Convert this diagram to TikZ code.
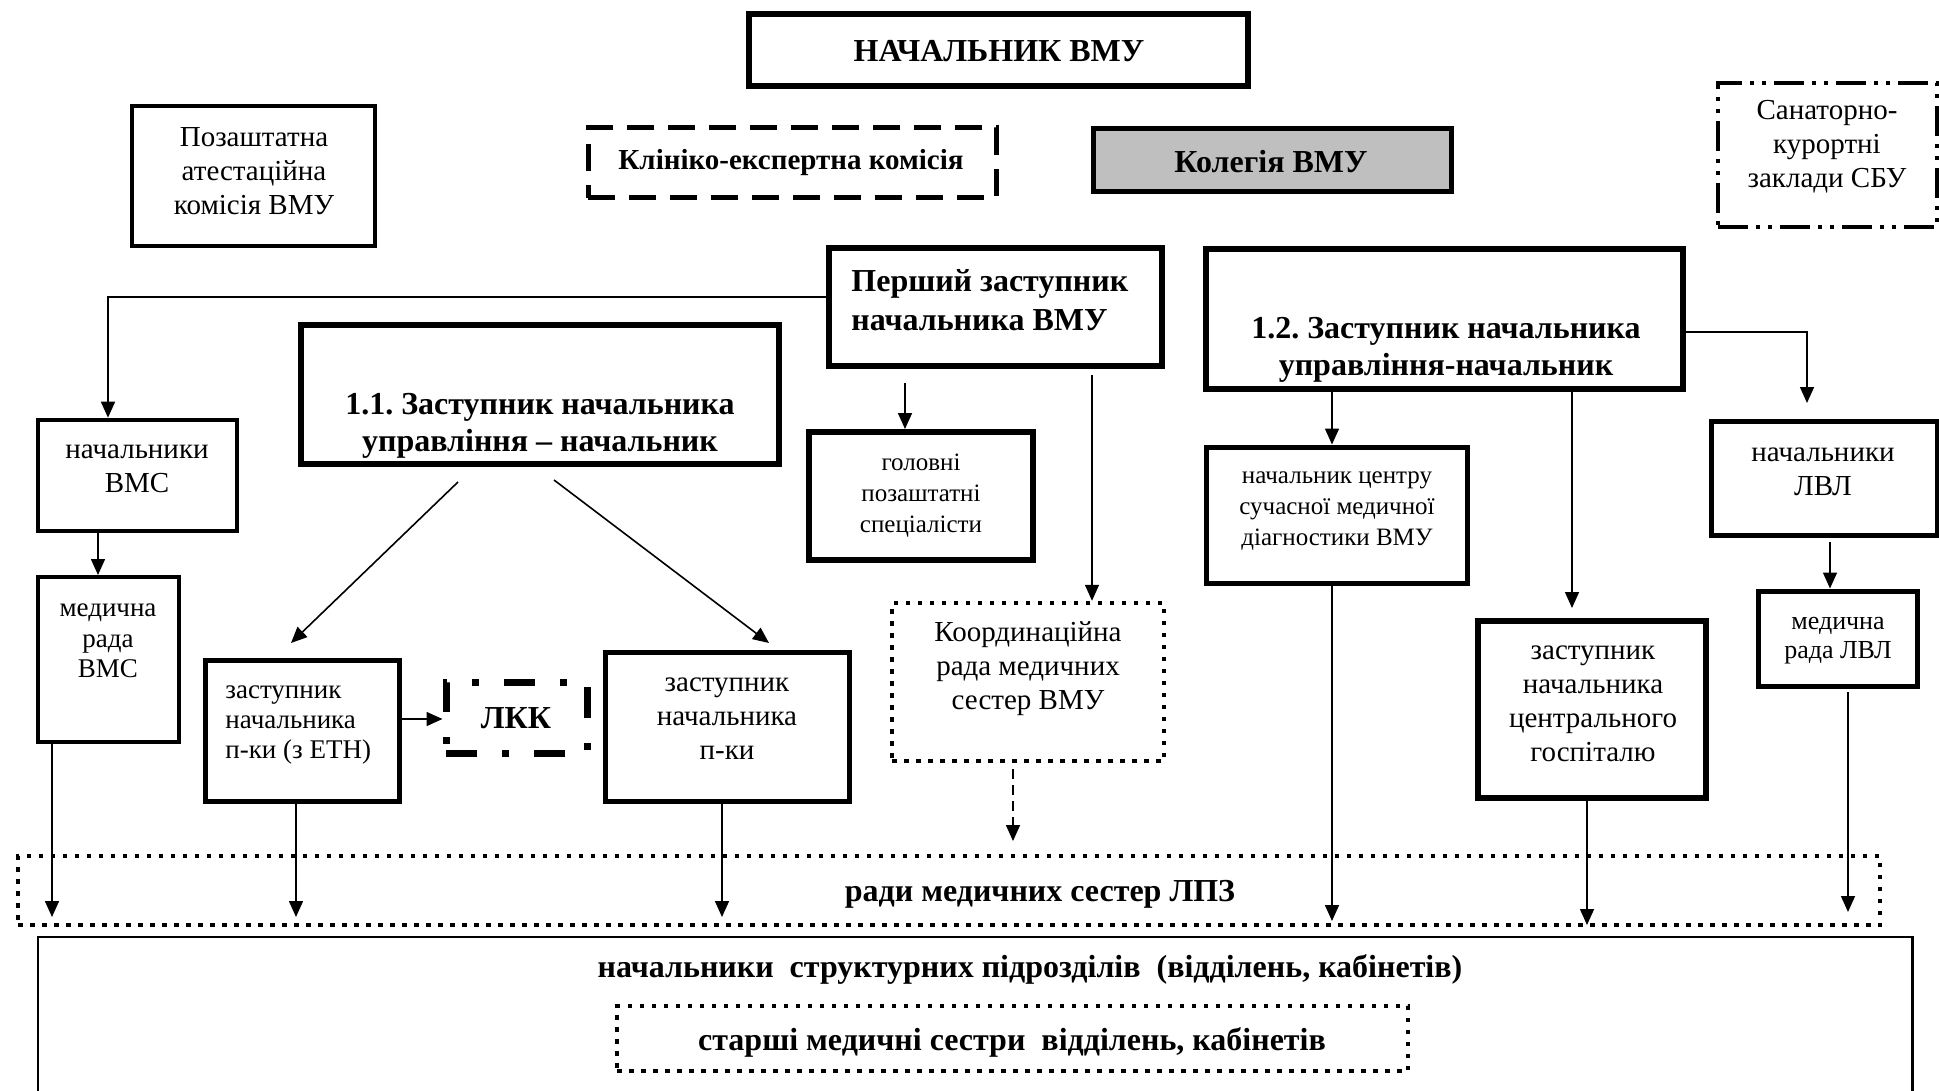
\documentclass[tikz,border=0pt]{standalone}
\usepackage{fontspec}
\setmainfont{Liberation Serif}
\frenchspacing
\usetikzlibrary{arrows.meta,fit,calc}
\definecolor{kolgray}{gray}{0.75}
\begin{document}
\begin{tikzpicture}[x=0.5pt,y=-0.5pt,
  box/.style={draw, inner sep=0pt, line width=#1},
  box/.default=2.5pt,
  dotbox/.style={draw, inner sep=0pt, line width=2.25pt, dash pattern=on 2.25pt off 3.75pt},
  dashbox/.style={draw, inner sep=0pt, line width=2.5pt, dash pattern=on 13.5pt off 7pt},
  ddotbox/.style={draw, inner sep=0pt, line width=2pt, dash pattern=on 15pt off 4pt on 2pt off 4pt on 2pt off 4pt},
  dshdotbox/.style={draw, inner sep=0pt, line width=3.5pt, dash pattern=on 15.5pt off 12.5pt on 3.5pt off 12.5pt},
  lbl/.style={align=center, inner sep=0pt, font=\fontsize{14.5}{17}\selectfont},
  slbl/.style={align=center, inner sep=0pt, font=\fontsize{12.5}{15.5}\selectfont},
  blbl/.style={align=center, inner sep=0pt, font=\fontsize{16}{18.5}\selectfont\bfseries},
  arr/.style={line width=0.8pt, -{Triangle[length=8pt,width=7pt]}},
  darr/.style={line width=0.8pt, dash pattern=on 5pt off 3pt, -{Triangle[length=8pt,width=7pt]}}
]
\useasboundingbox (0,0) rectangle (1939,1091);

% ---------- boxes ----------
\node[box=3.2pt, fit={(749,14)(1248,86)}] (nach) {};
\node[box=1.8pt, fit={(132,106)(375,246)}] (poza) {};
\node[dashbox, fit={(588,128)(996,198)}] (kek) {};
\node[box=2.5pt, fill=kolgray, fit={(1093,129)(1451,192)}] (kol) {};
\node[ddotbox, fit={(1718,83)(1937,227)}] (san) {};
\node[box=3pt, fit={(829,248)(1162,366)}] (persh) {};
\node[box=3pt, fit={(301,325)(779,464)}] (z11) {};
\node[box=3pt, fit={(1206,249)(1683,389)}] (z12) {};
\node[box=2.3pt, fit={(38,420)(237,531)}] (nvms) {};
\node[box=2pt, fit={(38,577)(179,742)}] (mrvms) {};
\node[box=3pt, fit={(809,432)(1033,560)}] (gps) {};
\node[dotbox, fit={(892,603)(1164,761)}] (krms) {};
\node[box=2.5pt, fit={(1206,447)(1467,583)}] (nc) {};
\node[box=2.5pt, fit={(1711,421)(1937,535)}] (nlvl) {};
\node[box=2.5pt, fit={(1758,591)(1917,686)}] (mrlvl) {};
\node[box=3pt, fit={(1478,621)(1706,798)}] (zncg) {};
\node[box=2.5pt, fit={(205,660)(399,801)}] (znpe) {};
\node[dshdotbox, fit={(446,682)(587,753)}] (lkk) {};
\node[box=2.5pt, fit={(605,652)(849,801)}] (znp) {};
\node[dotbox, fit={(18,856)(1880,925)}] (rms) {};
\node[inner sep=0pt, fit={(38,937)(1912,1100)}] (big) {};
\draw[line width=1.1pt] (big.south west) |- (big.north east) -- (big.south east);
\node[dotbox, fit={(617,1006)(1408,1071)}] (star) {};

% ---------- texts ----------
\node[blbl] (nacht) at (999,51) {НАЧАЛЬНИК ВМУ};
\node[lbl] (pozat) at (254,171) {Позаштатна\\атестаційна\\комісія ВМУ};
\node[blbl, font=\fontsize{14.5}{17}\selectfont\bfseries] (kekt) at (791,163) {Клініко-експертна комісія};
\node[blbl] (kolt) at (1271,162) {Колегія ВМУ};
\node[lbl] (sant) at (1827,147) {Санаторно-\\курортні\\заклади СБУ};
\node[blbl, align=left, anchor=west, font=\fontsize{16}{19.5}\selectfont\bfseries] (persht) at (851,300) {Перший заступник\\начальника ВМУ};
\node[blbl] (z11t) at (540,426) {1.1. Заступник начальника\\управління – начальник};
\node[blbl] (z12t) at (1446,350) {1.2. Заступник начальника\\управління-начальник};
\node[lbl] (nvmst) at (137,469) {начальники\\ВМС};
\node[lbl, font=\fontsize{13.5}{15.3}\selectfont] (mrvmst) at (108,641) {медична\\рада\\ВМС};
\node[slbl] (gpst) at (921,496) {головні\\позаштатні\\спеціалісти};
\node[lbl] (krmst) at (1028,669) {Координаційна\\рада медичних\\сестер ВМУ};
\node[slbl] (nct) at (1337,511) {начальник центру\\сучасної медичної\\діагностики ВМУ};
\node[lbl] (nlvlt) at (1823,472) {начальники\\ЛВЛ};
\node[lbl, font=\fontsize{13}{14.5}\selectfont] (mrlvlt) at (1838,641) {медична\\рада ЛВЛ};
\node[lbl] (zncgt) at (1593,704) {заступник\\начальника\\центрального\\госпіталю};
\node[lbl, align=left, anchor=west, font=\fontsize{13.5}{14.8}\selectfont] (znpet) at (225,725) {заступник\\начальника\\п-ки (з ЕТН)};
\node[blbl, font=\fontsize{16}{18}\selectfont\bfseries] (lkkt) at (516,718) {ЛКК};
\node[lbl] (znpt) at (727,719) {заступник\\начальника\\п-ки};
\node[blbl] (rmst) at (1040,894) {ради медичних сестер ЛПЗ};
\node[blbl] (bigt) at (1030,969) {начальники\ \ структурних підрозділів\ \ (відділень, кабінетів)};
\node[blbl] (start) at (1012,1042) {старші медичні сестри\ \ відділень, кабінетів};

% ---------- connector end points ----------
\coordinate (e1) at (52,917);
\coordinate (e2) at (296,917);
\coordinate (e3) at (722,917);
\coordinate (e4) at (1013,841);
\coordinate (e5) at (1332,921);
\coordinate (e6) at (1572,608);
\coordinate (e7) at (1587,925);
\coordinate (e8) at (1807,403);
\coordinate (e9) at (1848,912);
\coordinate (s1) at (905,383);
\coordinate (s2) at (1092,375);
\coordinate (s3) at (458,482);
\coordinate (s4) at (554,480);
\coordinate (s5) at (1013,769);
\coordinate (s6) at (1848,692);
\coordinate (s7) at (1830,542);
\coordinate (e10) at (291,643);
\coordinate (e11) at (769,643);

% ---------- connectors ----------
\draw[arr] (persh.west |- 0,297) -| (108,0 |- nvms.north);
\draw[arr] (98,0 |- nvms.south) -- (98,0 |- mrvms.north);
\draw[arr] (52,0 |- mrvms.south) -- (e1);
\draw[arr] (s1) -- (905,0 |- gps.north);
\draw[arr] (s2) -- (1092,0 |- krms.north);
\draw[arr] (s3) -- (e10);
\draw[arr] (s4) -- (e11);
\draw[arr] (znpe.east |- 0,719) -- (lkk.west |- 0,719);
\draw[arr] (296,0 |- znpe.south) -- (e2);
\draw[arr] (722,0 |- znp.south) -- (e3);
\draw[darr] (s5) -- (e4);
\draw[arr] (1332,0 |- z12.south) -- (1332,0 |- nc.north);
\draw[arr] (1332,0 |- nc.south) -- (e5);
\draw[arr] (1572,0 |- z12.south) -- (e6);
\draw[arr] (1587,0 |- zncg.south) -- (e7);
\draw[arr] (z12.east |- 0,332) -| (e8);
\draw[arr] (s7) -- (1830,0 |- mrlvl.north);
\draw[arr] (s6) -- (e9);
\end{tikzpicture}
\end{document}
